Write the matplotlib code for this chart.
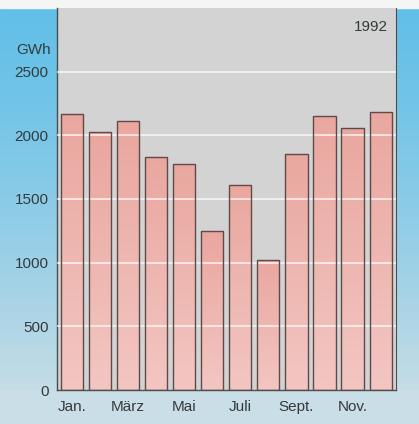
import matplotlib
matplotlib.use("Agg")
import matplotlib.pyplot as plt
import numpy as np
from matplotlib.colors import LinearSegmentedColormap

# monthly electricity production, GWh
months = ["Jan.", "Feb.", "März", "Apr.", "Mai", "Juni",
          "Juli", "Aug.", "Sept.", "Okt.", "Nov.", "Dez."]
gwh = [2167, 2023, 2112, 1831, 1777, 1245,
       1607, 1019, 1855, 2152, 2055, 2185]
shown_labels = ["Jan.", "", "März", "", "Mai", "", "Juli", "", "Sept.", "", "Nov.", ""]
y_ticks = [0, 500, 1000, 1500, 2000, 2500]
year = "1992"

plt.rcParams["font.family"] = ["Liberation Sans", "DejaVu Sans"]
text_color = "#353a3d"

W, H = 419, 424
fig = plt.figure(figsize=(W / 100, H / 100), dpi=100)

# page background: blue side bands fading to pale blue at the bottom
ax_l, ax_r, ax_b, ax_t = 57 / W, 396 / W, 34 / H, 416 / H
bg = fig.add_axes([0, 0, 1, 1], zorder=-10)
bg.set_axis_off()
yy = np.linspace(0, 1, 300)[:, None]
top_blue = np.array([0.38, 0.75, 0.91])
pale_blue = np.array([0.79, 0.87, 0.90])
t = np.clip((1 - yy) * 1.05, 0, 1) ** 1.3
grad = top_blue * (1 - t[..., None]) + pale_blue * t[..., None]
grad = np.repeat(grad, 2, axis=1)
bg.imshow(grad, extent=[0, ax_l, 0, 1], aspect="auto", origin="lower")
bg.imshow(grad, extent=[ax_r, 1, 0, 1], aspect="auto", origin="lower")
bg.add_patch(plt.Rectangle((0, 0), 1, ax_b, color=pale_blue, zorder=3))
bg.add_patch(plt.Rectangle((0, ax_t), 1, 1 - ax_t, color="#f4f6f6", zorder=3))
bg.set_xlim(0, 1)
bg.set_ylim(0, 1)

ax = fig.add_axes([ax_l, ax_b, ax_r - ax_l, ax_t - ax_b])
ax.set_facecolor("#d3d3d3")

x = np.arange(1, len(gwh) + 1)
bars = ax.bar(x, gwh, width=0.79, facecolor="#eeb4ae",
              edgecolor="#5e4a48", linewidth=1.0, zorder=2)

# soft salmon-to-pink shading inside each bar
bar_cmap = LinearSegmentedColormap.from_list("barshade", ["#f3c6c2", "#e9a79f"])
shade = np.linspace(0, 1, 256)[:, None]
for b in bars:
    x0 = b.get_x()
    im = ax.imshow(shade, cmap=bar_cmap, aspect="auto", origin="lower",
                   extent=[x0, x0 + b.get_width(), 0, b.get_height()], zorder=2.5)
    im.set_clip_path(b)
    b.set_facecolor("none")
    b.set_zorder(3)

for v in y_ticks[1:]:
    ax.axhline(v, color="white", linewidth=1.1, zorder=2.7, alpha=0.85)

ax.set_xlim(0.46, 12.55)
ax.set_ylim(0, 3000)
ax.set_yticks(y_ticks)
ax.set_xticks(x)
ax.set_xticklabels(shown_labels)
ax.tick_params(axis="both", length=0, labelsize=11, colors=text_color)
ax.tick_params(axis="y", pad=6)
ax.tick_params(axis="x", pad=7)

for side in ["left", "bottom", "right"]:
    ax.spines[side].set_color("#4d4d4d")
    ax.spines[side].set_linewidth(1.0)
ax.spines["right"].set_linewidth(0.8)
ax.spines["top"].set_visible(False)

ax.text(-0.12, 0.89, "GWh", transform=ax.transAxes, ha="left", va="center",
        fontsize=11, color=text_color)
ax.text(0.975, 0.95, year, transform=ax.transAxes, ha="right", va="center",
        fontsize=11, color=text_color)

fig.savefig("out.png", dpi=100)
